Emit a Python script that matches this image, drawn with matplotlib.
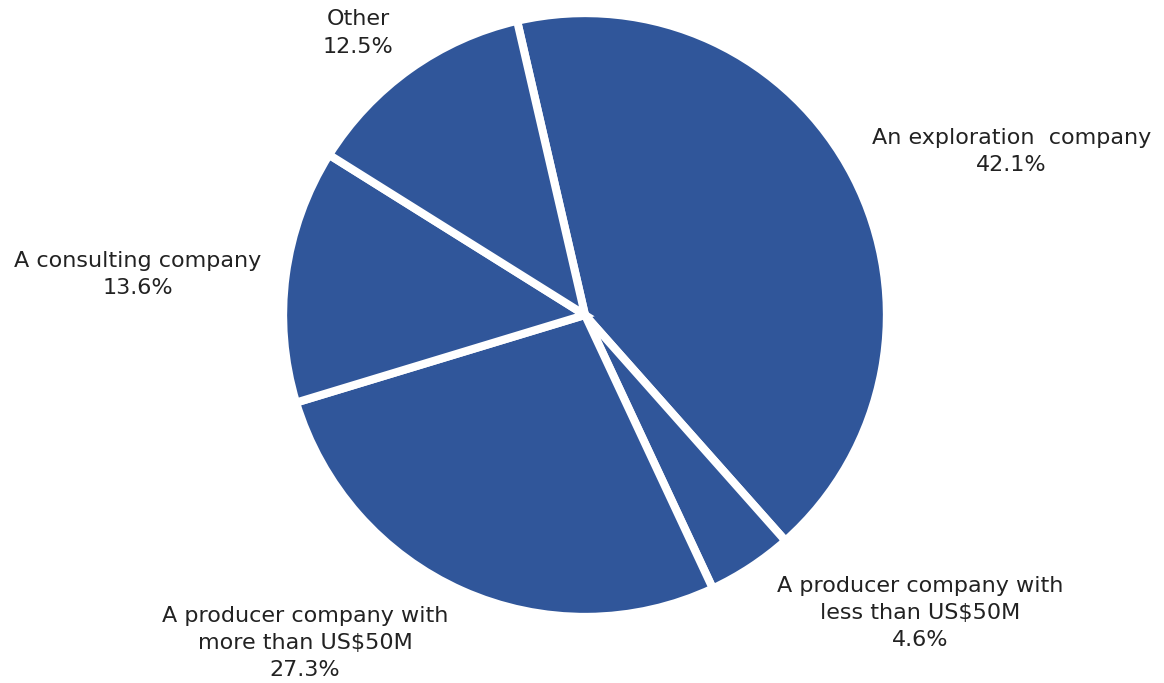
import matplotlib
matplotlib.use("Agg")
import matplotlib.pyplot as plt

# porcentajes por tipo de empresa (sentido horario desde arriba)
categorias = [
    "An exploration  company",
    "A producer company with\nless than US$50M",
    "A producer company with\nmore than US$50M",
    "A consulting company",
    "Other",
]
porcentajes = [42.1, 4.6, 27.3, 13.6, 12.5]

# posicion de cada etiqueta en unidades del radio
pos_etiquetas = [(1.43, 0.55), (1.125, -1.0), (-0.94, -1.10), (-1.50, 0.135), (-0.762, 0.946)]

azul = "#30569A"
plt.rcParams["font.family"] = ["DejaVu Sans"]

fig = plt.figure(figsize=(11.64, 6.83), dpi=100)
ax = fig.add_axes([0, 0, 1, 1])

ax.pie(porcentajes, colors=[azul] * len(porcentajes), startangle=103,
       counterclock=False, radius=1.013,
       wedgeprops=dict(edgecolor="white", linewidth=5.8))

for nombre, valor, (x, y) in zip(categorias, porcentajes, pos_etiquetas):
    ax.text(x, y, f"{nombre}\n{valor}%", ha="center", va="center",
            fontsize=16, color="#222222", linespacing=1.45)

ax.set_xlim(-585 / 298, (1164 - 585) / 298)
ax.set_ylim((315 - 683) / 298, 315 / 298)
ax.set_aspect("equal")
ax.axis("off")

fig.savefig("out.png", dpi=100, facecolor="white")
